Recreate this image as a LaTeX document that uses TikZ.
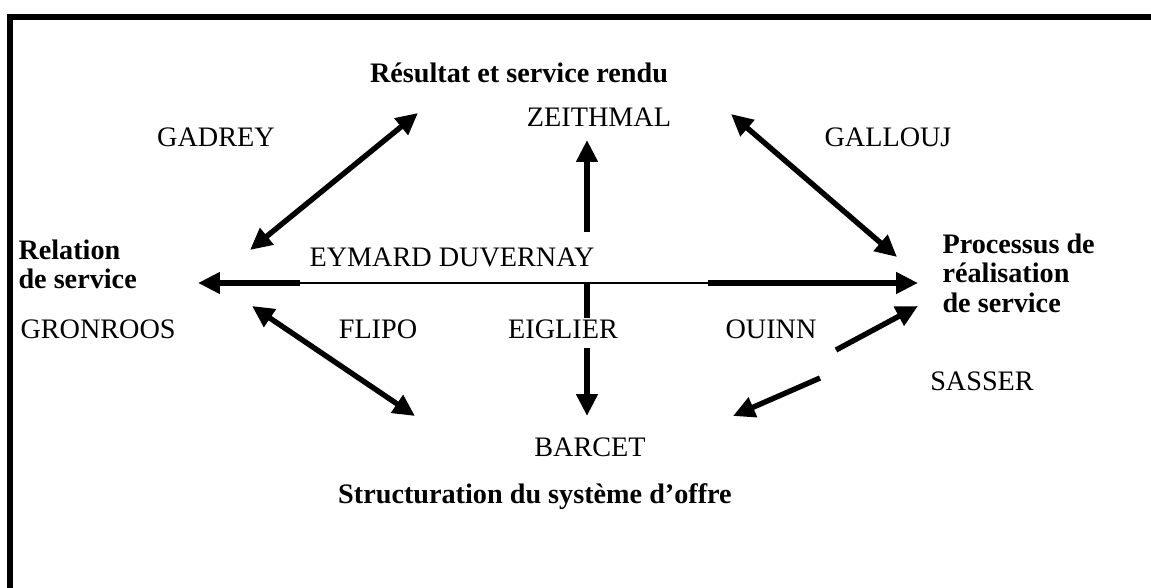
\documentclass[tikz,border=0pt]{standalone}
\usepackage{fontspec}
\setmainfont{Liberation Serif}
\usetikzlibrary{arrows.meta}
\begin{document}
\begin{tikzpicture}[x=0.39pt,y=-0.39pt,
  lbl/.style={inner sep=0pt, font=\fontsize{11}{11.6}\selectfont},
  head/.style={inner sep=0pt, align=left, font=\fontsize{11}{11.6}\selectfont\bfseries},
  tipa/.tip={Triangle[length=8.5pt,width=8pt]},
  thick link/.style={line width=2.1pt},
  thin link/.style={line width=1pt},
  one way/.style={thick link, -tipa},
  two way/.style={thick link, tipa-tipa},
  frame/.style={line width=2.4pt, line join=miter}]
\useasboundingbox (0,0) rectangle (1151,588);
% open frame: left and top edges
\draw[frame] (10,588) -- (10,17) -- (1151,17);

% headings
\node[head, anchor=base] (res) at (519,83) {Résultat et service rendu};
\node[head, anchor=north west] (rel) at (18,239) {Relation\\de service};
\node[head, anchor=north west] (proc) at (942,233) {Processus de\\réalisation\\de service};
\node[head, anchor=base] (struct) at (535,503) {Structuration du système d’offre};

% authors
\node[lbl, anchor=base] (zei) at (599,127) {ZEITHMAL};
\node[lbl, anchor=base] (gad) at (216,147) {GADREY};
\node[lbl, anchor=base] (gal) at (888,147) {GALLOUJ};
\node[lbl, anchor=base] (eym) at (452,267) {EYMARD DUVERNAY};
\node[lbl, anchor=base west] (gro) at (20,339) {GRONROOS};
\node[lbl, anchor=base] (fli) at (378,339) {FLIPO};
\node[lbl, anchor=base] (eig) at (563,339) {EIGLIER};
\node[lbl, anchor=base] (oui) at (771,339) {OUINN};
\node[lbl, anchor=base] (sas) at (982,391) {SASSER};
\node[lbl, anchor=base] (bar) at (590,456) {BARCET};

% connector end points
\coordinate (nwA) at (250,250);  \coordinate (nwB) at (418,113);
\coordinate (neA) at (731,114);  \coordinate (neB) at (897,257);
\coordinate (upA) at (587,232);  \coordinate (upB) at (587,140);
\coordinate (hL) at (198,283);   \coordinate (hR) at (918,283);
\coordinate (hT1) at (300,283);  \coordinate (hT2) at (708,283);
\coordinate (vA) at (587,283);   \coordinate (vB) at (587,318);
\coordinate (vC) at (587,348);   \coordinate (vD) at (587,416);
\coordinate (swA) at (252,306);  \coordinate (swB) at (415,416);
\coordinate (seA) at (836,350);  \coordinate (seB) at (918,306);
\coordinate (seC) at (820,378);  \coordinate (seD) at (733,416);

% connectors
\draw[two way] (nwA) -- (nwB);
\draw[two way] (neA) -- (neB);
\draw[one way] (upA) -- (upB);
\draw[one way] (hT1) -- (hL);
\draw[thin link] (hT1) -- (hT2);
\draw[one way] (hT2) -- (hR);
\draw[thick link] (vA) -- (vB);
\draw[one way] (vC) -- (vD);
\draw[two way] (swA) -- (swB);
\draw[one way] (seA) -- (seB);
\draw[one way] (seC) -- (seD);
\end{tikzpicture}
\end{document}
